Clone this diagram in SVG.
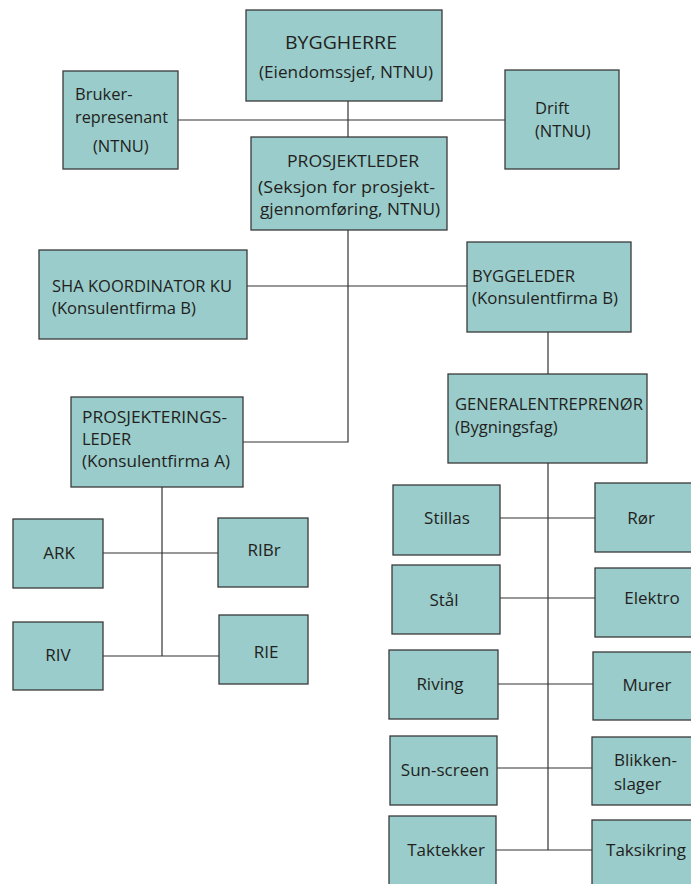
<svg xmlns="http://www.w3.org/2000/svg" width="691" height="884" viewBox="0 0 691 884">
<style>
  .box { fill: #99cccb; stroke: #3a3a3a; stroke-width: 1.3; }
  .t { font-family: "Open Sans", "Noto Sans", sans-serif; font-size: 16.5px; fill: #231f20; }
  .big { font-size: 19px; }
  .s { font-size: 17px; }
  .m { text-anchor: middle; }
  .c line, .c polyline { stroke: #333; stroke-width: 1.2; fill: none; }
</style>
<rect width="691" height="884" fill="#ffffff"/>
<g class="c" id="connectors">
  <line x1="348" y1="101" x2="348" y2="137"/>
  <line x1="178" y1="120" x2="505" y2="120"/>
  <polyline points="348,230 348,442 243,442"/>
  <line x1="247" y1="286" x2="467" y2="286"/>
  <line x1="548" y1="332" x2="548" y2="374"/>
  <line x1="548" y1="463" x2="548" y2="850"/>
  <line x1="162" y1="487" x2="162" y2="656"/>
  <line x1="103" y1="553" x2="218" y2="553"/>
  <line x1="103" y1="656" x2="219" y2="656"/>
  <line x1="500" y1="518" x2="595" y2="518"/>
  <line x1="500" y1="598" x2="595" y2="598"/>
  <line x1="498" y1="684" x2="593" y2="684"/>
  <line x1="497" y1="768" x2="592" y2="768"/>
  <line x1="496" y1="850" x2="592" y2="850"/>
</g>
<g id="byggherre"><rect class="box" x="246" y="10" width="196" height="91"/>
  <text class="t big" x="285" y="49" textLength="112" lengthAdjust="spacingAndGlyphs">BYGGHERRE</text>
  <text class="t" x="259" y="78" textLength="174" lengthAdjust="spacingAndGlyphs">(Eiendomssjef, NTNU)</text></g>
<g id="bruker"><rect class="box" x="63" y="71" width="115" height="98"/>
  <text class="t" x="75" y="100">Bruker-</text>
  <text class="t" x="75" y="123" textLength="93" lengthAdjust="spacingAndGlyphs">represenant</text>
  <text class="t" x="93" y="152">(NTNU)</text></g>
<g id="drift"><rect class="box" x="505" y="70" width="114" height="99"/>
  <text class="t" x="535" y="114">Drift</text>
  <text class="t" x="535" y="137">(NTNU)</text></g>
<g id="prosjektleder"><rect class="box" x="251" y="137" width="196" height="93"/>
  <text class="t" x="287" y="167" textLength="132" lengthAdjust="spacingAndGlyphs">PROSJEKTLEDER</text>
  <text class="t" x="258" y="193" textLength="177" lengthAdjust="spacingAndGlyphs">(Seksjon for prosjekt-</text>
  <text class="t" x="260" y="215" textLength="180" lengthAdjust="spacingAndGlyphs">gjennomføring, NTNU)</text></g>
<g id="sha"><rect class="box" x="39" y="250" width="208" height="89"/>
  <text class="t" x="52" y="292" textLength="180" lengthAdjust="spacingAndGlyphs">SHA KOORDINATOR KU</text>
  <text class="t" x="52" y="314" textLength="144" lengthAdjust="spacingAndGlyphs">(Konsulentfirma B)</text></g>
<g id="byggeleder"><rect class="box" x="467" y="242" width="164" height="90"/>
  <text class="t" x="472" y="282" textLength="103" lengthAdjust="spacingAndGlyphs">BYGGELEDER</text>
  <text class="t" x="472" y="304" textLength="146" lengthAdjust="spacingAndGlyphs">(Konsulentfirma B)</text></g>
<g id="generalentreprenor"><rect class="box" x="448" y="374" width="199" height="89"/>
  <text class="t" x="455" y="410" textLength="188" lengthAdjust="spacingAndGlyphs">GENERALENTREPRENØR</text>
  <text class="t" x="455" y="433">(Bygningsfag)</text></g>
<g id="prosjekteringsleder"><rect class="box" x="71" y="397" width="172" height="90"/>
  <text class="t" x="82" y="423" textLength="145" lengthAdjust="spacingAndGlyphs">PROSJEKTERINGS-</text>
  <text class="t" x="82" y="445">LEDER</text>
  <text class="t" x="82" y="467" textLength="148" lengthAdjust="spacingAndGlyphs">(Konsulentfirma A)</text></g>
<g id="ark"><rect class="box" x="13" y="519" width="90" height="69"/>
  <text class="t s m" x="59" y="559">ARK</text></g>
<g id="ribr"><rect class="box" x="218" y="518" width="90" height="69"/>
  <text class="t s m" x="264" y="556">RIBr</text></g>
<g id="riv"><rect class="box" x="13" y="622" width="90" height="68"/>
  <text class="t s m" x="58" y="661">RIV</text></g>
<g id="rie"><rect class="box" x="219" y="615" width="89" height="69"/>
  <text class="t s m" x="266" y="658">RIE</text></g>
<g id="stillas"><rect class="box" x="393" y="485" width="107" height="70"/>
  <text class="t s m" x="447" y="524">Stillas</text></g>
<g id="ror"><rect class="box" x="595" y="483" width="100" height="69"/>
  <text class="t s m" x="641" y="524">Rør</text></g>
<g id="stal"><rect class="box" x="392" y="565" width="108" height="69"/>
  <text class="t s m" x="444" y="606">Stål</text></g>
<g id="elektro"><rect class="box" x="595" y="568" width="100" height="69"/>
  <text class="t s m" x="652" y="604">Elektro</text></g>
<g id="riving"><rect class="box" x="389" y="650" width="109" height="69"/>
  <text class="t s m" x="440" y="690">Riving</text></g>
<g id="murer"><rect class="box" x="593" y="652" width="102" height="68"/>
  <text class="t s m" x="647" y="691">Murer</text></g>
<g id="sunscreen"><rect class="box" x="390" y="736" width="107" height="69"/>
  <text class="t s m" x="445" y="776">Sun-screen</text></g>
<g id="blikkenslager"><rect class="box" x="592" y="737" width="103" height="68"/>
  <text class="t s" x="614" y="766">Blikken-</text>
  <text class="t s" x="614" y="790">slager</text></g>
<g id="taktekker"><rect class="box" x="389" y="816" width="107" height="72"/>
  <text class="t s m" x="446" y="856">Taktekker</text></g>
<g id="taksikring"><rect class="box" x="592" y="820" width="103" height="68"/>
  <text class="t s m" x="646" y="856">Taksikring</text></g>
</svg>
